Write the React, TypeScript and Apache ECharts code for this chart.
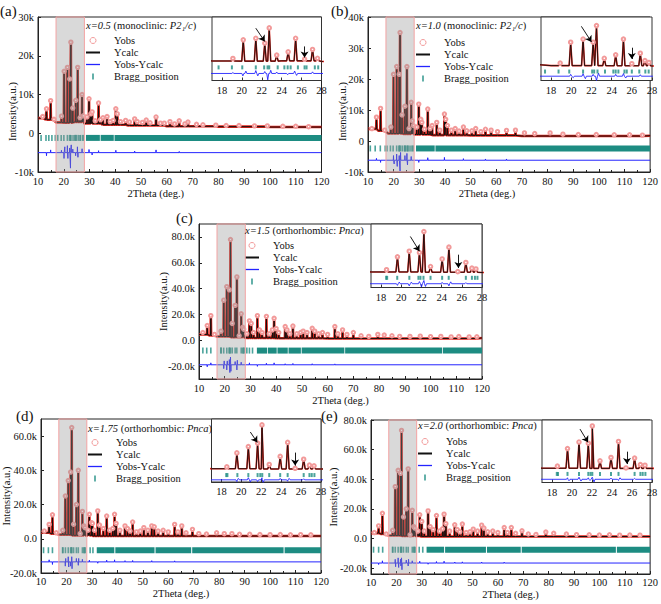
import React, { useEffect, useRef } from 'react';
import * as echarts from 'echarts';

type Pt = [number, number];

// ---------------- data ----------------
const panelLabels = ['(a)', '(b)', '(c)', '(d)', '(e)'];
const compositionLabels = ['x=0.5', 'x=1.0', 'x=1.5', 'x=1.75', 'x=2.0'];
const phaseNames = ['monoclinic', 'monoclinic', 'orthorhombic', 'orthorhombic', 'orthorhombic'];
const spaceGroups = ['P2\u2081/c', 'P2\u2081/c', 'Pnca', 'Pnca', 'Pnca'];
const legendNames = ['Yobs', 'Ycalc', 'Yobs-Ycalc', 'Bragg_position'];
const xTicksMain = [10, 20, 30, 40, 50, 60, 70, 80, 90, 100, 110, 120];
const xTicksInset = [18, 20, 22, 24, 26, 28];
const yTicksA = [-10000, 0, 10000, 20000, 30000];
const yTicksB = [-10000, 0, 10000, 20000, 30000, 40000];
const yTicksC = [-20000, 0, 20000, 40000, 60000, 80000];
const yTicksD = [-20000, 0, 20000, 40000, 60000];
const yTicksE = [-20000, 0, 20000, 40000, 60000, 80000];
const highlightRange: Pt = [17, 28];

// background levels [2theta, counts]
const bgA: Pt[] = [[10, 3900], [13, 3500], [17, 2800], [20, 2700], [24, 2900], [28, 2500], [35, 2200], [45, 2000], [60, 1800], [80, 1700], [100, 1600], [120, 1600]];
const bgB: Pt[] = [[10, 3900], [14, 3300], [18, 2400], [24, 2300], [28, 2100], [35, 1900], [50, 1800], [70, 1600], [90, 1600], [120, 1700]];
const bgC: Pt[] = [[10, 4400], [14, 3800], [17, 2900], [22, 2400], [28, 1800], [40, 1600], [60, 1300], [90, 1400], [120, 1800]];
const bgD: Pt[] = [[10, 3500], [14, 3000], [17, 2400], [22, 2000], [30, 1600], [60, 1600], [120, 1600]];
const bgE: Pt[] = [[10, 3600], [14, 3000], [17, 2000], [22, 1700], [30, 1300], [60, 1300], [120, 1300]];

// reflections [2theta, peak intensity]
const peaksA: Pt[] = [[11.8, 4300], [13.3, 6300], [14.9, 8400], [16.2, 3600], [19.1, 4400], [20.14, 16000], [21.4, 17000], [22.3, 14000], [22.75, 23500], [23.5, 6500], [24.65, 8500], [25.4, 17000], [26.3, 4000], [27.1, 10000], [27.6, 4500], [29.0, 4200], [29.8, 8900], [30.5, 5000], [31.0, 5500], [32.2, 3200], [33.5, 7800], [34.3, 3500], [35.2, 4000], [36.8, 4300], [38.0, 3000], [39.2, 3300], [40.2, 6300], [40.8, 5000], [42.0, 3000], [44.0, 3300], [45.5, 2900], [47.5, 3700], [48.5, 3000], [50.5, 2800], [52.0, 3400], [53.5, 2700], [55.8, 4200], [57.5, 2600], [59.0, 2600], [61.2, 3000], [63.0, 2400], [64.8, 3200], [67.0, 2400], [68.2, 2900], [71.5, 2300], [74.0, 2200], [79.0, 2100], [83.0, 2000], [88.0, 2000], [94.0, 1900], [99.0, 1900], [105.0, 1800], [110.0, 1800], [115.0, 1700]];
const peaksB: Pt[] = [[11.5, 4000], [13.3, 7700], [14.9, 10500], [16.5, 3500], [18.9, 4500], [19.94, 21500], [21.17, 24000], [22.17, 21500], [22.5, 35000], [23.27, 8400], [24.4, 11200], [25.17, 24000], [26.0, 4000], [26.84, 12500], [27.3, 6500], [27.7, 5000], [29.0, 4500], [29.8, 11900], [30.6, 7000], [31.0, 6000], [32.0, 3800], [33.3, 10300], [34.2, 4000], [35.0, 5000], [36.8, 6000], [38.0, 3500], [39.8, 8700], [40.3, 7000], [41.0, 5000], [42.5, 3500], [44.0, 4000], [45.5, 3200], [47.2, 4500], [48.5, 3300], [50.5, 3300], [52.0, 4000], [54.0, 3000], [55.8, 3800], [58.0, 3500], [60.5, 3000], [64.0, 3400], [67.5, 3500], [71.0, 2600], [75.0, 2400], [81.0, 2600], [86.0, 2200], [92.0, 2100], [99.0, 2100], [106.0, 2000], [112.0, 2000], [117.0, 1900]];
const peaksC: Pt[] = [[11.5, 6000], [13.2, 11400], [14.6, 19000], [16.0, 4500], [18.54, 7000], [19.62, 31000], [20.79, 41500], [21.8, 39000], [22.24, 78000], [22.9, 13000], [24.05, 27000], [24.72, 49000], [25.6, 3500], [26.4, 20500], [27.0, 10000], [27.4, 8500], [28.6, 5000], [29.6, 15000], [30.3, 13000], [31.2, 6000], [32.7, 19000], [33.5, 8000], [34.5, 6000], [36.2, 18500], [37.3, 5000], [38.5, 8000], [39.2, 17000], [40.0, 9000], [41.0, 6000], [43.5, 10600], [44.2, 8000], [45.3, 5000], [46.5, 11000], [48.0, 5000], [49.5, 6000], [50.5, 7000], [52.0, 6000], [54.0, 9300], [55.0, 7000], [56.5, 5000], [58.0, 6000], [60.0, 4500], [62.8, 10600], [64.0, 5000], [65.8, 8000], [67.5, 4500], [70.0, 6000], [73.0, 3500], [76.0, 3000], [79.5, 4500], [82.0, 4000], [85.0, 3500], [88.0, 3000], [92.0, 3000], [96.0, 3200], [100.0, 2800], [104.0, 3000], [108.0, 2600], [111.0, 2900], [115.0, 2600], [118.0, 2700]];
const peaksD: Pt[] = [[11.3, 4500], [13.2, 8400], [14.5, 14000], [16.0, 3500], [18.54, 5000], [19.55, 25000], [20.7, 34000], [21.63, 39000], [22.07, 65000], [22.8, 8500], [23.9, 20000], [24.65, 40000], [25.4, 3000], [26.26, 16000], [26.84, 7500], [27.3, 6500], [28.5, 5000], [29.0, 14300], [29.8, 9400], [30.2, 9000], [31.0, 5000], [32.3, 16300], [33.0, 8000], [34.5, 6000], [35.8, 13300], [37.0, 5000], [38.2, 6000], [38.9, 14300], [39.5, 9000], [41.0, 5000], [43.0, 7500], [44.0, 6000], [45.0, 4500], [46.0, 9800], [47.5, 4000], [49.0, 4500], [50.4, 6500], [52.0, 5000], [53.5, 7500], [54.5, 7000], [56.0, 4500], [58.0, 5000], [60.0, 4000], [62.5, 8400], [63.8, 4000], [65.3, 7500], [67.0, 3500], [69.5, 5500], [72.0, 3000], [75.0, 2800], [79.0, 3500], [82.0, 3000], [85.0, 3000], [88.0, 2600], [92.0, 2600], [96.0, 2500], [100.0, 2400], [104.0, 2500], [108.0, 2300], [112.0, 2400], [116.0, 2300]];
const peaksE: Pt[] = [[11.3, 4000], [13.0, 8500], [14.5, 17000], [16.0, 3000], [18.54, 5500], [19.55, 35000], [20.7, 46000], [21.63, 44000], [22.03, 73000], [22.8, 14500], [23.9, 20000], [24.65, 47000], [25.4, 2500], [26.26, 19000], [26.84, 8000], [27.3, 7000], [28.5, 5000], [29.2, 16000], [30.0, 11500], [31.0, 5000], [32.5, 18600], [33.3, 8000], [34.5, 6000], [35.8, 15500], [37.0, 5000], [38.2, 6500], [38.8, 16400], [39.5, 10000], [41.0, 5000], [43.0, 9200], [44.0, 6000], [45.0, 4500], [46.0, 9700], [47.5, 4000], [49.0, 4500], [50.3, 6300], [52.0, 5000], [53.6, 9000], [54.5, 7000], [56.0, 4500], [58.0, 5000], [60.0, 4000], [62.5, 7400], [63.8, 4000], [65.3, 7400], [67.0, 3500], [69.5, 5200], [72.0, 3000], [75.0, 2700], [78.9, 4300], [82.0, 3500], [87.0, 3000], [91.0, 2600], [96.0, 2500], [100.0, 2300], [104.0, 2500], [108.0, 2200], [112.0, 2300], [116.0, 2200]];

// difference curve: level and spikes [2theta, deviation]
const diffLevels = [-5000, -6200, -19000, -13500, -16600];
const diffA: Pt[] = [[13.3, -800], [14.9, 700], [19.1, 600], [20.1, -1500], [20.4, 1500], [21.4, 1800], [21.6, -1500], [22.3, 1200], [22.6, -4000], [22.9, 2000], [23.5, 900], [24.6, -800], [25.3, 1500], [25.5, -1200], [27.1, 1000], [29.8, 800], [31.0, -600], [33.5, 500], [40.2, 600], [47.5, 400], [55.8, 700], [64.8, 300]];
const diffB: Pt[] = [[13.3, 600], [14.9, -700], [19.94, 1500], [20.2, -1200], [21.17, 2000], [21.4, -2000], [22.17, 1500], [22.5, -3500], [22.7, 2500], [24.4, 1500], [25.17, 2200], [25.4, -1500], [26.84, 1200], [29.8, -700], [33.3, 800], [39.8, 900], [47.2, 500], [55.8, 400], [64.0, 400]];
const diffC: Pt[] = [[13.2, -1500], [14.6, 1500], [19.62, -3000], [19.8, 3000], [20.79, -4000], [21.0, 3000], [21.8, 4000], [22.0, -6000], [22.24, 6000], [22.4, -5000], [24.05, 2500], [24.72, -4000], [24.9, 3500], [26.4, 2000], [29.6, 1500], [32.7, -1200], [36.2, 1200], [39.2, 1500], [43.5, 800], [46.5, 1000], [54.0, 800], [62.8, 700]];
const diffD: Pt[] = [[13.2, 1200], [14.5, -1500], [19.55, -2500], [19.7, 2000], [20.7, 3000], [20.9, -3000], [21.63, -2500], [22.07, 3000], [22.2, -4000], [23.9, 2000], [24.65, -2000], [24.8, 2000], [26.26, 1500], [29.0, 1000], [32.3, -800], [35.8, 1000], [38.9, 1200], [43.0, 700], [46.0, 800], [53.5, 700], [62.5, 600]];
const diffE: Pt[] = [[13.0, -1000], [14.5, 1500], [19.55, 2500], [19.7, -2500], [20.7, 3500], [20.9, -3000], [21.63, 2500], [21.8, -2000], [22.03, 3500], [22.2, -4500], [23.9, 2000], [24.65, -2000], [24.8, 2500], [26.26, 1500], [29.2, 1200], [32.5, -800], [35.8, 1000], [38.8, 1200], [43.0, 700], [46.0, 800], [53.6, 700], [62.5, 600]];

// Bragg positions: level, discrete ticks, dense bands [from, to]
const braggLevels = [-1200, -2400, -8000, -6700, -7600];
const braggA = [11.2, 13.1, 14.2, 15.4, 16.7, 17.66, 19.0, 20.04, 21.4, 22.24, 22.58, 22.75, 23.6, 24.27, 24.6, 24.9, 25.63, 26.3, 26.5, 27.33, 27.67];
const braggB = [10.9, 12.8, 14.8, 16.7, 17.4, 18.74, 19.8, 21.17, 22.07, 22.27, 22.6, 23.34, 24.17, 24.4, 24.67, 25.27, 25.5, 26.0, 26.74, 27.34, 27.67];
const braggC = [11.5, 13.0, 14.6, 18.5, 18.6, 19.6, 20.8, 21.7, 21.9, 22.2, 22.9, 24.05, 24.7, 26.4, 27.0, 27.3, 27.55, 28.6, 29.6, 30.8];
const braggD = [11.0, 12.9, 14.5, 18.48, 18.6, 19.6, 20.7, 21.63, 21.9, 22.1, 22.8, 23.9, 24.65, 26.26, 26.84, 27.07, 27.34, 29.3, 30.4];
const braggE = [11.0, 13.0, 14.6, 18.48, 18.6, 19.55, 20.7, 21.63, 21.85, 22.03, 22.8, 23.9, 24.65, 26.26, 26.84, 27.07, 27.34, 29.0, 30.4];
const bandA: Pt[] = [[28.6, 34.0], [34.3, 39.4], [39.7, 120]];
const bandB: Pt[] = [[28.7, 36.0], [36.3, 120]];
const bandC: Pt[] = [[32.5, 36.5], [36.8, 40.2], [40.5, 44.5], [44.8, 49.6], [49.9, 66.5], [66.8, 104.5], [104.8, 120]];
const bandD: Pt[] = [[31.9, 38.8], [39.2, 54.6], [55.0, 69.0], [69.4, 105.3], [105.7, 120]];
const bandE: Pt[] = [[31.9, 38.8], [39.2, 55.3], [55.7, 69.0], [69.4, 106.5], [106.9, 120]];

// inset arrows [[from],[to]] in data coordinates
const arrowsA: Pt[][] = [[[21.4, 23300], [22.3, 15000]], [[26.3, 11900], [26.3, 5000]]];
const arrowsB: Pt[][] = [[[21.0, 34400], [22.0, 21700]], [[26.0, 17000], [26.0, 7800]]];
const arrowsC: Pt[][] = [[[20.9, 68800], [21.8, 41500]], [[25.66, 35000], [25.66, 10400]]];
const arrowsD: Pt[][] = [[[20.9, 54800], [21.6, 40000]], [[25.4, 25400], [25.4, 6800]]];
const arrowsE: Pt[][] = [[[20.8, 67700], [21.6, 45500]], [[25.5, 29800], [25.5, 9000]]];

// ---------------- styling / layout ----------------
const FONT = '"Liberation Serif", "Times New Roman", serif';
const TXT = '#111';
const AX = '#222';
const RED = '#e2231a';
const PINK = '#f29a9a';
const BLACK = '#111';
const BLUE = '#2424ff';
const TEAL = '#1d8c82';

const fmtK = (v: number) => (v === 0 ? '0' : `${v / 1000}k`);
const fmtK1 = (v: number) => (v === 0 ? '0.0' : `${(v / 1000).toFixed(1)}k`);

const panels = [
  { bg: bgA, peaks: peaksA, diff: diffA, bragg: braggA, band: bandA, arrows: arrowsA, yTicks: yTicksA, fmt: fmtK },
  { bg: bgB, peaks: peaksB, diff: diffB, bragg: braggB, band: bandB, arrows: arrowsB, yTicks: yTicksB, fmt: fmtK },
  { bg: bgC, peaks: peaksC, diff: diffC, bragg: braggC, band: bandC, arrows: arrowsC, yTicks: yTicksC, fmt: fmtK1 },
  { bg: bgD, peaks: peaksD, diff: diffD, bragg: braggD, band: bandD, arrows: arrowsD, yTicks: yTicksD, fmt: fmtK1 },
  { bg: bgE, peaks: peaksE, diff: diffE, bragg: braggE, band: bandE, arrows: arrowsE, yTicks: yTicksE, fmt: fmtK1 },
];

const layout = [
  { main: { left: 38, top: 17, width: 283.5, height: 155 }, inset: { left: 212, top: 17, width: 109.5, height: 63.5 }, y: [-10000, 30000], insetY: [-9400, 30300], letter: [0, 3], title: [86, 20], legend: [86, 35], yGap: 20, yPad: [0, 34, 0, 0], xGap: 16, xPad: [0, 48, 0, 0], xMargin: 4, tick: 6 },
  { main: { left: 368, top: 17, width: 284, height: 155 }, inset: { left: 541, top: 17, width: 111, height: 63.5 }, y: [-10000, 40000], insetY: [-9700, 42000], letter: [331, 3], title: [416, 20], legend: [416, 37], yGap: 20, yPad: [0, 34, 0, 0], xGap: 16, xPad: [0, 44, 0, 0], xMargin: 4, tick: 6 },
  { main: { left: 199, top: 224, width: 283, height: 155 }, inset: { left: 371, top: 224, width: 111, height: 63.5 }, y: [-30000, 90000], insetY: [-26000, 92000], letter: [176, 210], title: [245, 225], legend: [245, 240], yGap: 30, yPad: [0, 0, 0, 0], xGap: 16, xPad: [0, 0, 0, 0], xMargin: 4, tick: 6 },
  { main: { left: 41, top: 419, width: 280, height: 154 }, inset: { left: 211.5, top: 419, width: 109.5, height: 63 }, y: [-20000, 70000], insetY: [-16600, 73400], letter: [16, 408], title: [88, 423], legend: [88, 437], yGap: 29, yPad: [0, 0, 0, 0], xGap: 15, xMargin: 3, xPad: [0, 0, 0, 0], tick: 6 },
  { main: { left: 371, top: 420, width: 281, height: 154 }, inset: { left: 542, top: 420, width: 110, height: 62.5 }, y: [-24000, 80000], insetY: [-22000, 83000], letter: [321, 408], title: [418, 420], legend: [418, 436], yGap: 32, yPad: [0, 0, 0, 0], xGap: 14.5, xMargin: 3, xPad: [0, 0, 0, 0], tick: 6 },
];

// ---------------- builders ----------------
type ProfPt = { x: number; y: number; apex: boolean };

function baseAt(bg: Pt[], x: number) {
  let v = bg[0][1];
  for (const [bx, by] of bg) if (bx <= x) v = by;
  return v;
}

function profile(bg: Pt[], peaks: Pt[], w: number): ProfPt[] {
  const pts: ProfPt[] = bg.map(([x, y]) => ({ x, y, apex: false }));
  for (const [p, h] of peaks) {
    const b = baseAt(bg, p);
    pts.push({ x: p - w, y: b, apex: false });
    pts.push({ x: p, y: h, apex: true });
    pts.push({ x: p + w, y: b, apex: false });
  }
  return pts.sort((a, b) => a.x - b.x);
}

function diffLine(level: number, spikes: Pt[], w: number): Pt[] {
  const pts: Pt[] = [[10, level], [120, level]];
  for (const [p, a] of spikes) {
    pts.push([p - w, level], [p, level + a], [p + w, level]);
  }
  return pts.sort((a, b) => a[0] - b[0]);
}

const axisFont = { fontFamily: FONT, fontSize: 10.5, color: TXT };

function buildOption() {
  const grid: any[] = [];
  const xAxis: any[] = [];
  const yAxis: any[] = [];
  const series: any[] = [];
  const legend: any[] = [];
  const title: any[] = [];

  panels.forEach((pd, i) => {
    const L = layout[i];
    const gm = i * 2;
    const gi = gm + 1;
    grid.push({ ...L.main, show: true, borderColor: AX, borderWidth: 1, backgroundColor: 'transparent', containLabel: false });
    grid.push({ ...L.inset, show: true, borderColor: '#333', borderWidth: 1, backgroundColor: '#fff', containLabel: false });

    xAxis.push({
      type: 'value', gridIndex: gm, min: 10, max: 120, interval: 10,
      axisLine: { onZero: false, lineStyle: { color: AX } },
      axisTick: { inside: true, length: 3, lineStyle: { color: AX } },
      minorTick: { show: true, splitNumber: 2, length: 2, lineStyle: { color: AX } },
      splitLine: { show: false },
      axisLabel: { ...axisFont, margin: L.xMargin, formatter: (v: number) => (xTicksMain.includes(v) ? String(v) : '') },
      name: '2Theta (deg.)', nameLocation: 'middle', nameGap: L.xGap, nameMoveOverlap: false,
      nameTextStyle: { ...axisFont, padding: L.xPad },
    });
    xAxis.push({
      type: 'value', gridIndex: gi, min: 17, max: 28,
      axisLine: { onZero: false, lineStyle: { color: '#333' } },
      axisTick: { inside: true, length: 3, customValues: xTicksInset, lineStyle: { color: '#333' } },
      axisLabel: { ...axisFont, margin: 4, customValues: xTicksInset },
      splitLine: { show: false },
    });
    yAxis.push({
      type: 'value', gridIndex: gm, min: L.y[0], max: L.y[1],
      axisLine: { show: true, onZero: false, lineStyle: { color: AX } },
      axisTick: { inside: true, length: 3, customValues: pd.yTicks, lineStyle: { color: AX } },
      axisLabel: { ...axisFont, margin: 4, customValues: pd.yTicks, formatter: pd.fmt },
      splitLine: { show: false },
      name: 'Intensity(a.u.)', nameLocation: 'middle', nameGap: L.yGap, nameMoveOverlap: false,
      nameTextStyle: { ...axisFont, padding: L.yPad },
    });
    yAxis.push({ type: 'value', gridIndex: gi, min: L.insetY[0], max: L.insetY[1], show: false });

    // ---- main plot ----
    const prof = profile(pd.bg, pd.peaks, 0.12);
    series.push({
      name: 'Yobs', type: 'line', xAxisIndex: gm, yAxisIndex: gm, silent: true, z: 2,
      symbol: 'emptyCircle', showSymbol: true, showAllSymbol: true,
      lineStyle: { color: RED, width: 2.6 }, itemStyle: { color: RED },
      data: prof.map((p) => (p.apex
        ? { value: [p.x, p.y], symbol: 'emptyCircle', symbolSize: 3.4, itemStyle: { color: PINK, borderWidth: 0.8 } }
        : { value: [p.x, p.y], symbol: 'none' })),
    });
    series.push({
      name: 'Ycalc', type: 'line', xAxisIndex: gm, yAxisIndex: gm, silent: true, z: 2,
      symbol: 'none', lineStyle: { color: BLACK, width: 1 }, itemStyle: { color: BLACK },
      data: prof.map((p) => [p.x, p.y]),
    });
    series.push({
      name: 'Yobs-Ycalc', type: 'line', xAxisIndex: gm, yAxisIndex: gm, silent: true, z: 2,
      symbol: 'none', lineStyle: { color: BLUE, width: 1 }, itemStyle: { color: BLUE },
      data: diffLine(diffLevels[i], pd.diff, 0.07),
    });
    series.push({
      name: 'Bragg_position', type: 'scatter', xAxisIndex: gm, yAxisIndex: gm, silent: true, z: 2,
      symbol: 'rect', symbolSize: [1.6, L.tick], itemStyle: { color: TEAL },
      data: pd.bragg.map((x) => [x, braggLevels[i]]),
    });
    series.push({
      name: 'Bragg band', type: 'custom', xAxisIndex: gm, yAxisIndex: gm, silent: true, z: 2,
      encode: { x: [0, 1], y: 2 },
      data: pd.band.map(([a, b]) => [a, b, braggLevels[i]]),
      renderItem: (params: any, api: any) => {
        const p1 = api.coord([api.value(0), api.value(2)]);
        const p2 = api.coord([api.value(1), api.value(2)]);
        return { type: 'rect', shape: { x: p1[0], y: p1[1] - L.tick / 2, width: p2[0] - p1[0], height: L.tick }, style: { fill: TEAL } };
      },
    });
    series.push({
      name: 'Refined region', type: 'custom', xAxisIndex: gm, yAxisIndex: gm, silent: true, z: 6,
      encode: { x: [0, 1], y: 2 },
      data: [[highlightRange[0], highlightRange[1], 0]],
      renderItem: (params: any, api: any) => {
        const cs = params.coordSys;
        const x1 = api.coord([api.value(0), 0])[0];
        const x2 = api.coord([api.value(1), 0])[0];
        return {
          type: 'rect', shape: { x: x1, y: cs.y, width: x2 - x1, height: cs.height },
          style: { fill: 'rgba(150,150,150,0.36)', stroke: '#f3a3a3', lineWidth: 1 },
        };
      },
    });

    // ---- inset ----
    const profI = profile(pd.bg, pd.peaks, 0.15);
    series.push({
      name: 'inset Yobs', type: 'line', xAxisIndex: gi, yAxisIndex: gi, silent: true, z: 3, clip: true,
      symbol: 'emptyCircle', showSymbol: true, showAllSymbol: true,
      lineStyle: { color: RED, width: 1.6 }, itemStyle: { color: RED },
      data: profI.map((p) => (p.apex && p.x > 17 && p.x < 28
        ? { value: [p.x, p.y], symbol: 'emptyCircle', symbolSize: 3.5, itemStyle: { color: PINK, borderWidth: 0.8 } }
        : { value: [p.x, p.y], symbol: 'none' })),
    });
    series.push({
      name: 'inset Ycalc', type: 'line', xAxisIndex: gi, yAxisIndex: gi, silent: true, z: 3, clip: true,
      symbol: 'none', lineStyle: { color: BLACK, width: 0.9 },
      data: profI.map((p) => [p.x, p.y]),
      markLine: {
        silent: true, symbol: ['none', 'arrow'], symbolSize: 6,
        lineStyle: { color: '#000', width: 0.9, type: 'solid' }, label: { show: false },
        data: pd.arrows.map(([a, b]) => [{ coord: a }, { coord: b }]),
      },
    });
    series.push({
      name: 'inset Yobs-Ycalc', type: 'line', xAxisIndex: gi, yAxisIndex: gi, silent: true, z: 3, clip: true,
      symbol: 'none', lineStyle: { color: BLUE, width: 0.9 },
      data: diffLine(diffLevels[i], pd.diff, 0.1),
    });
    series.push({
      name: 'inset Bragg', type: 'scatter', xAxisIndex: gi, yAxisIndex: gi, silent: true, z: 3,
      symbol: 'rect', symbolSize: [2, 4], itemStyle: { color: TEAL },
      data: pd.bragg.filter((x) => x > 17 && x < 28).map((x) => [x, braggLevels[i]]),
    });

    // ---- texts ----
    title.push({
      text: panelLabels[i], left: L.letter[0], top: L.letter[1], padding: 0,
      textStyle: { fontFamily: FONT, fontSize: 15, fontWeight: 'normal', color: TXT },
    });
    title.push({
      text: `{i|${compositionLabels[i]}} (${phaseNames[i]}: {i|${spaceGroups[i]}})`,
      left: L.title[0], top: L.title[1], padding: 0,
      textStyle: {
        fontFamily: FONT, fontSize: 10.5, fontWeight: 'normal', color: TXT,
        rich: { i: { fontFamily: FONT, fontSize: 10.5, fontStyle: 'italic', color: TXT } },
      },
    });
    legend.push({
      left: L.legend[0], top: L.legend[1], orient: 'vertical', padding: 0,
      itemWidth: 14, itemHeight: 6, itemGap: 1, selectedMode: false,
      textStyle: { fontFamily: FONT, fontSize: 10.5, color: TXT, padding: [0, 0, 0, 9] },
      data: [
        { name: legendNames[0], icon: 'circle', itemStyle: { color: 'rgba(255,255,255,0)', borderColor: PINK, borderWidth: 1 } },
        { name: legendNames[1], icon: 'path://M0,0H14V2H0Z', itemStyle: { color: BLACK } },
        { name: legendNames[2], icon: 'path://M0,0H14V1.3H0Z', itemStyle: { color: BLUE } },
        { name: legendNames[3], icon: 'path://M0,0H2V7H0Z', itemStyle: { color: TEAL } },
      ],
    });
  });

  return {
    animation: false,
    backgroundColor: '#fff',
    textStyle: { fontFamily: FONT },
    title, legend, grid, xAxis, yAxis, series,
  };
}

export default function App() {
  const ref = useRef<HTMLDivElement>(null);
  useEffect(() => {
    if (!ref.current) return;
    const chart = echarts.init(ref.current, undefined, { renderer: 'svg' });
    chart.setOption(buildOption() as any);
    return () => chart.dispose();
  }, []);
  return (
    <div
      ref={ref}
      style={{ position: 'fixed', left: 0, top: 0, width: 661, height: 604, background: '#fff' }}
    />
  );
}
